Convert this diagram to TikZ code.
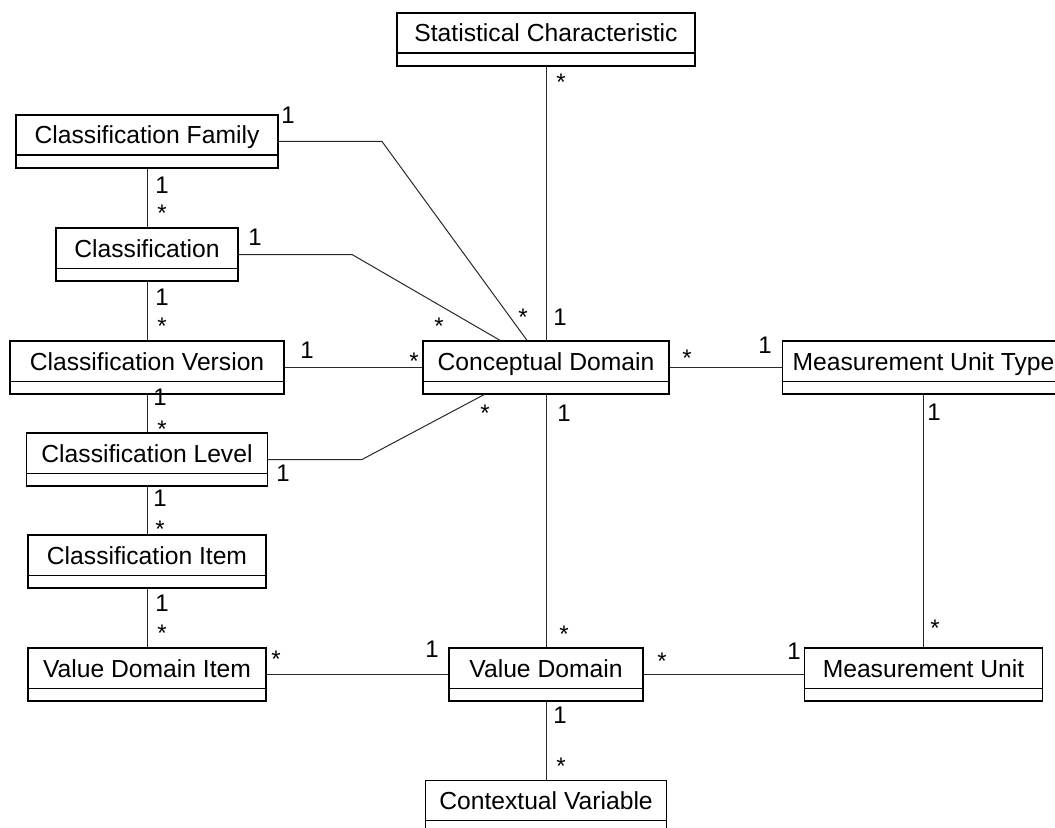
\documentclass[tikz,border=0pt]{standalone}
\usepackage{fontspec}
\setmainfont{Liberation Sans}
\usetikzlibrary{calc}

\begin{document}
\begin{tikzpicture}[x=0.75pt,y=0.75pt,yscale=-1,xscale=1,
  umlclass/.style={draw,line width=1pt,rectangle,inner xsep=0pt,inner ysep=0pt,text height=21.75pt,text depth=18pt,font=\fontsize{18.5}{22}\selectfont},
  assoc/.style={line width=0.75pt,draw={rgb, 255:red, 40; green, 40; blue, 40 }},
  mult/.style={anchor=base,inner sep=0pt,font=\fontsize{18}{22}\selectfont}]
\useasboundingbox (0,0) rectangle (1055,827);

%Shape: Class boxes
\node [umlclass,minimum width=223.5pt] (statchar) at (546,39.5) {Statistical Characteristic};
\node [umlclass,minimum width=196.5pt] (clsfamily) at (147,141.5) {Classification Family};
\node [umlclass,minimum width=136.5pt] (clsf) at (147,254.5) {Classification};
\node [umlclass,minimum width=205.5pt] (clsversion) at (147,367.5) {Classification Version};
\node [umlclass,minimum width=180.75pt] (clslevel) at (147,459.5) {Classification Level};
\node [umlclass,minimum width=178.5pt] (clsitem) at (147,561.5) {Classification Item};
\node [umlclass,minimum width=178.5pt] (vditem) at (147,674.5) {Value Domain Item};
\node [umlclass,minimum width=184.5pt] (concdom) at (546,367.5) {Conceptual Domain};
\node [umlclass,minimum width=211.5pt] (unittype) at (923.5,367.5) {Measurement Unit Type};
\node [umlclass,minimum width=145.5pt] (valdom) at (546,674.5) {Value Domain};
\node [umlclass,minimum width=178.5pt] (unit) at (923.5,674.5) {Measurement Unit};
\node [umlclass,minimum width=180.75pt] (ctxvar) at (546,807) {Contextual Variable};

%Shape: attribute compartments
\foreach \n in {statchar,clsfamily,clsf,clsversion,clslevel,clsitem,vditem,concdom,unittype,valdom,unit,ctxvar}
  \draw [line width=1pt] ($(\n.south west)+(0,-13.5)$) -- ($(\n.south east)+(0,-13.5)$);

%Straight Lines: left column
\draw [assoc] (clsfamily.south) -- (clsf.north);
\draw [assoc] (clsf.south) -- (clsversion.north);
\draw [assoc] (clsversion.south) -- (clslevel.north);
\draw [assoc] (clslevel.south) -- (clsitem.north);
\draw [assoc] (clsitem.south) -- (vditem.north);
%Straight Lines: middle and right
\draw [assoc] (statchar.south) -- (concdom.north);
\draw [assoc] (concdom.south) -- (valdom.north);
\draw [assoc] (valdom.south) -- (ctxvar.north);
\draw [assoc] (unittype.south) -- (unit.north);
\draw [assoc] (clsversion.east) -- (concdom.west);
\draw [assoc] (concdom.east) -- (unittype.west);
\draw [assoc] (vditem.east) -- (valdom.west);
\draw [assoc] (valdom.east) -- (unit.west);
%Bent Lines to Conceptual Domain
\coordinate (famknee) at (382,141.5);
\coordinate (clsknee) at (352,254.5);
\coordinate (lvlknee) at (362,459.5);
\draw [assoc] (clsfamily.east) -- (famknee) -- ([xshift=-14.25pt]concdom.north);
\draw [assoc] (clsf.east) -- (clsknee) -- ([xshift=-34.5pt]concdom.north);
\draw [assoc] (clslevel.east) -- (lvlknee) -- ([xshift=-46.5pt]concdom.south);

% Text Node: multiplicity 1
\node [mult] (famcd1) at (288,123.5) {1};
\node [mult] (famcls1) at (162,193.5) {1};
\node [mult] (clscd1) at (255,245.5) {1};
\node [mult] (clsver1) at (162,305.5) {1};
\node [mult] (sccd1) at (560,325.5) {1};
\node [mult] (vercd1) at (307,358.5) {1};
\node [mult] (cdut1) at (765,353.5) {1};
\node [mult] (verlvl1) at (160,405.5) {1};
\node [mult] (cdvd1) at (564,421.5) {1};
\node [mult] (utu1) at (934,420.5) {1};
\node [mult] (lvlcd1) at (283,481.5) {1};
\node [mult] (lvlitem1) at (160,506.5) {1};
\node [mult] (itemvdi1) at (162,611.5) {1};
\node [mult] (vdivd1) at (432,657.5) {1};
\node [mult] (vdu1) at (794,659.5) {1};
\node [mult] (vdctx1) at (560,723.5) {1};
% Text Node: multiplicity *
\node [mult] (sccdn) at (561,91) {*};
\node [mult] (famclsn) at (162,222) {*};
\node [mult] (clsvern) at (162,334) {*};
\node [mult] (clscdn) at (439,334) {*};
\node [mult] (famcdn) at (523,325) {*};
\node [mult] (vercdn) at (414,369) {*};
\node [mult] (cdutn) at (687,366) {*};
\node [mult] (verlvln) at (162,437) {*};
\node [mult] (lvlcdn) at (485,421) {*};
\node [mult] (lvlitemn) at (160,537) {*};
\node [mult] (itemvdin) at (162,641) {*};
\node [mult] (vdivdn) at (276,667) {*};
\node [mult] (cdvdn) at (564,642) {*};
\node [mult] (vdun) at (662,669) {*};
\node [mult] (utun) at (935,636) {*};
\node [mult] (vdctxn) at (561,774) {*};
\end{tikzpicture}
\end{document}
